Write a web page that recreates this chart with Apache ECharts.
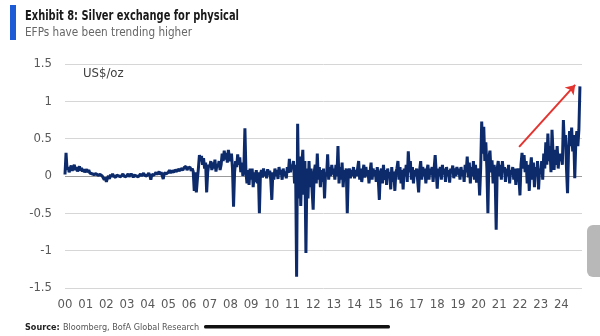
<!DOCTYPE html>
<html><head><meta charset="utf-8">
<script src="https://cdn.jsdelivr.net/npm/echarts@6/dist/echarts.min.js"></script>
<style>html,body{margin:0;padding:0;background:#fff}#c{width:600px;height:336px}</style>
</head><body><div id="c"></div>
<script>
// Silver EFP (US$/oz), ~20 readings per year
const startYears = [2000,2001,2002,2003,2004,2005,2006,2007,2008,2009,2010,2011,2012,2013,2014,2015,2016,2017,2018,2019,2020,2021,2022,2023,2024];
const efp2000 = [0.02,0.31,0.08,0.12,0.05,0.1,0.14,0.07,0.11,0.15,0.08,0.12,0.06,0.1,0.13,0.07,0.11,0.06,0.09,0.05];
const efp2001 = [0.07,0.09,0.05,0.08,0.04,0.06,0.03,0.05,0.02,0.04,0.03,0.05,0.01,0.03,0.02,0.04,0.0,0.02,-0.05,-0.02];
const efp2002 = [-0.08,-0.03,0.0,-0.04,0.02,-0.01,0.03,0.0,0.02,-0.02,0.01,0.03,0.0,0.02,-0.01,0.01,0.03,0.0,0.02,-0.01];
const efp2003 = [0.01,0.03,-0.01,0.02,0.0,0.02,-0.02,0.01,0.03,0.0,0.02,-0.01,0.01,0.03,0.0,0.02,0.04,0.01,0.03,0.0];
const efp2004 = [0.02,0.04,0.01,-0.05,0.02,0.04,0.01,0.03,0.05,0.02,0.04,0.06,0.02,0.05,0.03,-0.04,0.04,0.06,0.03,0.05];
const efp2005 = [0.05,0.08,0.04,0.07,0.09,0.05,0.08,0.1,0.06,0.09,0.11,0.07,0.1,0.12,0.08,0.11,0.09,0.13,0.08,0.11];
const efp2006 = [0.09,0.12,0.07,0.1,0.06,-0.2,0.05,-0.22,-0.05,0.1,0.28,0.2,0.27,0.15,0.24,0.1,0.18,-0.22,0.05,0.15];
const efp2007 = [0.12,0.2,0.08,0.18,0.1,0.22,0.06,0.16,0.12,0.2,0.08,0.15,0.3,0.2,0.34,0.22,0.31,0.18,0.35,0.25];
const efp2008 = [0.2,0.3,0.1,-0.41,0.05,0.2,0.12,0.29,0.15,0.25,0.05,0.18,0.0,0.1,0.64,0.05,-0.1,0.08,-0.12,0.1];
const efp2009 = [-0.05,0.1,-0.15,0.05,-0.08,0.08,-0.1,0.05,-0.5,0.02,0.08,-0.02,0.1,0.0,0.06,-0.03,0.09,0.01,0.07,-0.05];
const efp2010 = [-0.32,0.05,-0.05,0.1,0.0,0.08,-0.04,0.12,0.02,0.08,-0.05,0.1,0.0,0.06,-0.03,0.12,0.04,0.23,0.05,0.15];
const efp2011 = [0.1,0.2,-0.1,0.15,-1.35,0.7,-0.3,0.26,-0.4,0.15,0.35,-0.25,0.2,-1.03,0.1,-0.3,0.2,-0.15,0.1,-0.2];
const efp2012 = [-0.45,0.05,0.15,-0.1,0.3,-0.05,0.12,-0.15,0.08,-0.08,0.1,-0.3,0.05,0.0,0.29,-0.05,0.12,0.0,0.15,0.02];
const efp2013 = [0.1,-0.05,0.15,0.0,0.4,-0.1,0.12,-0.05,0.18,-0.15,0.08,0.0,0.1,-0.5,0.05,0.1,-0.03,0.08,0.0,0.12];
const efp2014 = [-0.03,0.08,0.0,0.1,0.2,-0.05,0.1,-0.08,0.05,0.15,-0.02,0.12,0.0,0.08,-0.1,0.05,0.18,-0.05,0.1,0.0];
const efp2015 = [0.08,-0.08,0.12,-0.05,-0.32,0.05,0.1,-0.1,0.15,-0.05,0.08,-0.12,0.1,0.0,0.05,-0.18,0.12,-0.08,0.06,-0.2];
const efp2016 = [0.05,0.1,0.2,-0.05,0.12,-0.1,0.08,-0.18,0.1,0.0,0.15,-0.08,0.33,0.05,0.2,-0.05,0.12,-0.1,0.08,0.0];
const efp2017 = [0.1,-0.05,-0.22,0.08,0.2,-0.05,0.12,0.0,0.1,-0.1,0.08,0.15,-0.05,0.1,0.02,0.12,-0.08,0.1,0.28,0.05];
const efp2018 = [-0.17,0.1,0.0,0.12,-0.05,0.15,0.02,0.1,-0.08,0.12,0.0,0.08,-0.09,0.1,0.05,0.14,-0.03,0.1,0.0,0.12];
const efp2019 = [0.02,0.1,-0.05,0.12,0.0,0.08,-0.08,0.15,0.05,0.26,-0.02,0.18,-0.1,0.12,0.0,0.2,-0.05,0.15,-0.09,0.1];
const efp2020 = [0.05,-0.26,0.1,0.73,0.3,0.66,0.2,0.45,0.1,-0.5,0.25,0.34,0.05,0.21,-0.1,0.15,0.0,-0.72,0.1,0.2];
const efp2021 = [0.0,0.15,-0.05,0.2,0.05,0.12,-0.08,0.1,0.0,0.15,-0.1,0.08,0.02,0.12,-0.05,0.1,-0.12,0.05,0.1,-0.02];
const efp2022 = [-0.26,0.15,0.31,0.1,0.28,0.05,0.2,-0.1,0.15,-0.2,0.1,0.25,-0.05,0.18,-0.15,0.12,0.0,0.2,-0.18,0.1];
const efp2023 = [0.05,0.2,-0.05,0.3,0.1,0.45,0.15,0.57,0.2,0.4,0.05,0.62,0.3,0.08,0.35,0.15,0.4,0.1,0.3,0.2];
const efp2024 = [0.3,0.15,0.75,0.4,0.55,0.1,-0.23,0.35,0.6,0.4,0.65,0.33,0.55,-0.03,0.45,0.6,0.4,0.62,1.2];
const yearSeries = [efp2000,efp2001,efp2002,efp2003,efp2004,efp2005,efp2006,efp2007,efp2008,efp2009,efp2010,efp2011,efp2012,efp2013,efp2014,efp2015,efp2016,efp2017,efp2018,efp2019,efp2020,efp2021,efp2022,efp2023,efp2024];
const yTicks = [-1.5,-1,-0.5,0,0.5,1,1.5];
const arrowFrom = [2021.96, 0.39];
const arrowTo = [2024.67, 1.22];

const data = [];
yearSeries.forEach((arr, k) => {
  arr.forEach((v, j) => data.push([startYears[k] + j / 20, v]));
});

const FONT = '"Liberation Sans Narrow","DejaVu Sans Condensed",sans-serif';
const TITLE_FONT = 'bold 14px ' + FONT;
const SUB_FONT = '13px ' + FONT;
const TITLE = 'Exhibit 8: Silver exchange for physical';
const SUBTITLE = 'EFPs have been trending higher';
const ctx = document.createElement('canvas').getContext('2d');
function fitScale(text, font, target) {
  ctx.font = font;
  const w = ctx.measureText(text).width;
  return w > 0 ? Math.min(1, target / w) : 1;
}

const chart = echarts.init(document.getElementById('c'), null, {renderer: 'canvas'});
chart.setOption({
  animation: false,
  backgroundColor: '#ffffff',
  grid: {left: 65, right: 18, top: 64, bottom: 48, containLabel: false},
  xAxis: {
    type: 'value', min: 2000, max: 2025, interval: 1,
    axisLine: {show: false}, axisTick: {show: false}, splitLine: {show: false},
    axisLabel: {
      color: '#595959', fontSize: 13, fontFamily: FONT, margin: 10,
      formatter: v => (v >= 2025 ? '' : String(v % 100).padStart(2, '0'))
    }
  },
  yAxis: {
    type: 'value', min: -1.5, max: 1.5, interval: 0.5,
    axisLine: {show: false}, axisTick: {show: false},
    axisLabel: {color: '#595959', fontSize: 13, fontFamily: FONT, margin: 13,
      formatter: v => String(v)},
    splitLine: {lineStyle: {color: ['#d6d6d6','#d6d6d6','#d6d6d6','#9a9a9a','#d6d6d6','#d6d6d6','#d6d6d6'], width: 1}}
  },
  series: [{
    type: 'line', data: data, showSymbol: false, symbol: 'none',
    lineStyle: {color: '#0d2b6b', width: 3}, clip: false,
    markLine: {
      silent: true, symbol: ['none', 'arrow'], symbolSize: 9,
      label: {show: false},
      lineStyle: {color: '#e3342f', width: 2, type: 'solid'},
      data: [[{coord: arrowFrom}, {coord: arrowTo}]]
    }
  }],
  graphic: [
    {type: 'rect', left: 10, top: 5, shape: {width: 6, height: 35}, style: {fill: '#1c5ad6'}},
    {type: 'text', x: 25, y: 9, scaleX: fitScale(TITLE, TITLE_FONT, 214), style: {text: TITLE, font: TITLE_FONT, fill: '#1a1a1a'}},
    {type: 'text', x: 25, y: 26, scaleX: fitScale(SUBTITLE, SUB_FONT, 167), style: {text: SUBTITLE, font: SUB_FONT, fill: '#666666'}},
    {type: 'text', left: 83, top: 67, style: {text: 'US$/oz', font: '13px ' + FONT, fill: '#404040'}},
    {type: 'text', left: 25, top: 322, style: {rich: {b: {font: 'bold 9px ' + FONT, fill: '#222'}, n: {font: '9px ' + FONT, fill: '#555'}}, text: '{b|Source:} {n|Bloomberg, BofA Global Research}'}},
    {type: 'rect', left: 204, top: 325, shape: {width: 186, height: 3.5, r: 1.5}, style: {fill: '#111111'}},
    {type: 'rect', left: 587, top: 225, shape: {width: 24, height: 52, r: 6}, style: {fill: '#b8b8b8'}}
  ]
});
</script></body></html>
